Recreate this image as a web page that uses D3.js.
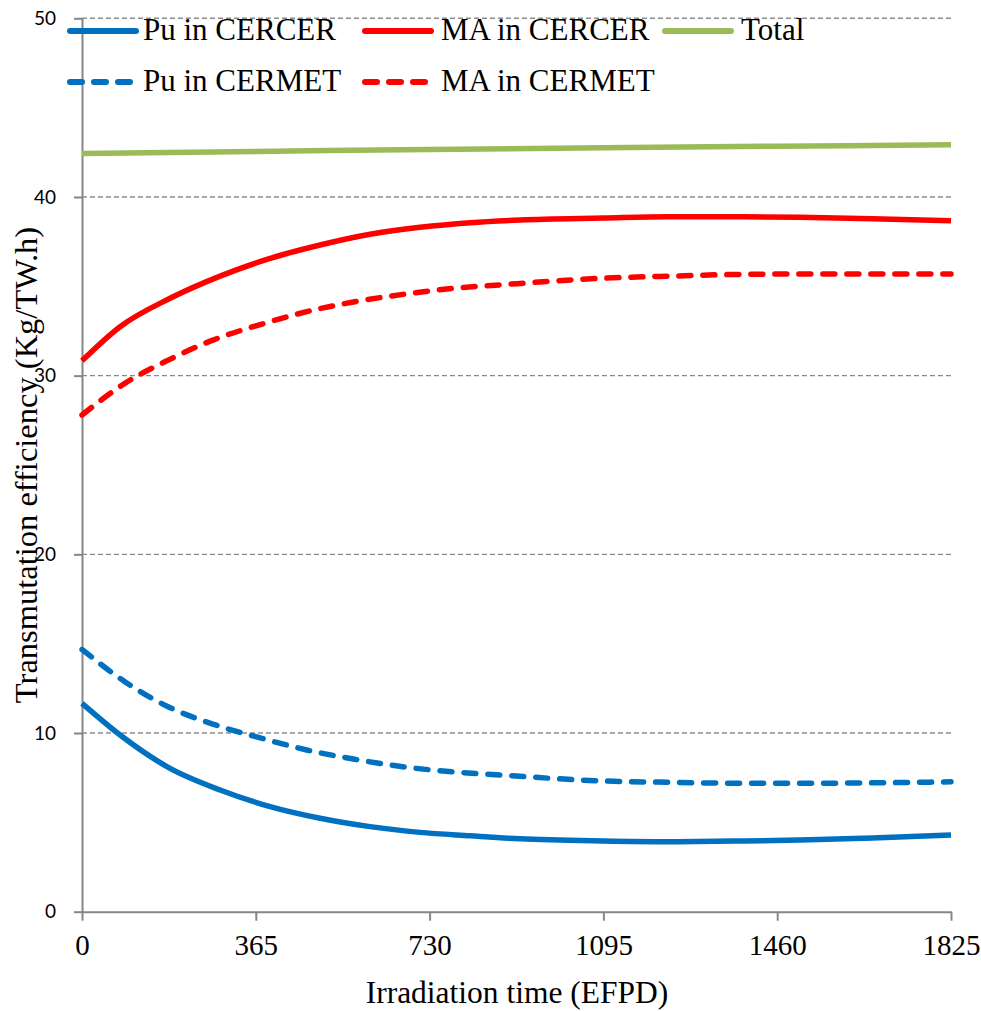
<!DOCTYPE html>
<html>
<head>
<meta charset="utf-8">
<script src="https://cdnjs.cloudflare.com/ajax/libs/d3/7.8.5/d3.min.js"></script>
<style>
  body { margin: 0; background: #fff; }
  svg { display: block; }
</style>
</head>
<body>
<div id="chart"></div>
<script>
// data
var cercerDays = [0, 80, 185, 290, 395, 500, 605, 710, 815, 920, 1095, 1229, 1370, 1508, 1660, 1825];
var puCercer = [11.66, 9.89, 8.02, 6.81, 5.88, 5.23, 4.76, 4.44, 4.25, 4.08, 3.96, 3.92, 3.95, 4.01, 4.13, 4.29];
var maCercer = [30.83, 32.74, 34.33, 35.57, 36.56, 37.31, 37.91, 38.30, 38.56, 38.71, 38.82, 38.89, 38.89, 38.86, 38.78, 38.67];
var cermetDays = [0, 90, 181, 275, 378, 472, 573, 674, 777, 878, 1082, 1235, 1388, 1539, 1693, 1825];
var puCermet = [14.68, 12.87, 11.47, 10.50, 9.70, 9.05, 8.53, 8.11, 7.83, 7.65, 7.33, 7.24, 7.19, 7.19, 7.22, 7.27];
var maCermet = [27.80, 29.57, 30.87, 31.99, 32.89, 33.58, 34.14, 34.55, 34.88, 35.08, 35.44, 35.57, 35.67, 35.69, 35.69, 35.69];
var totalDays = [0, 365, 730, 1095, 1460, 1825];
var total = [42.44, 42.55, 42.66, 42.75, 42.84, 42.92];

var xTicks = [0, 365, 730, 1095, 1460, 1825];
var yTicks = [0, 10, 20, 30, 40, 50];

var w = 981, h = 1011;
var plotLeft = 82, plotRight = 951, plotTop = 18.3, plotBottom = 911.7;
var serif = "'Liberation Serif', 'Times New Roman', serif";
var axisColor = "#868686";

var svg = d3.select("#chart")
  .append("svg")
  .attr("width", w)
  .attr("height", h);

var xScale = d3.scaleLinear().domain([0, 1825]).range([plotLeft, plotRight]);
var yScale = d3.scaleLinear().domain([0, 50]).range([plotBottom, plotTop]);

// gridlines
svg.append("g")
  .selectAll("line")
  .data(yTicks.filter(function(d) { return d > 0; }))
  .enter().append("line")
  .attr("x1", plotLeft)
  .attr("x2", plotRight)
  .attr("y1", function(d) { return yScale(d); })
  .attr("y2", function(d) { return yScale(d); })
  .style("stroke", "#8c8c8c")
  .style("stroke-width", 1.4)
  .style("stroke-dasharray", "5,3");

// y axis
var yAxis = svg.append("g")
  .attr("transform", "translate(" + plotLeft + ",0)")
  .call(d3.axisLeft(yScale).tickValues(yTicks).tickSize(8).tickSizeOuter(0).tickPadding(18).tickFormat(d3.format("d")));
yAxis.select("path").style("stroke", axisColor).style("stroke-width", 2);
yAxis.selectAll("line").style("stroke", axisColor).style("stroke-width", 2);
yAxis.selectAll("text")
  .style("font-family", "Lato, 'Open Sans', sans-serif")
  .style("font-size", "19px")
  .style("fill", "#000");

// x axis
var xAxis = svg.append("g")
  .attr("transform", "translate(0," + plotBottom + ")")
  .call(d3.axisBottom(xScale).tickValues(xTicks).tickSize(9).tickSizeOuter(0).tickPadding(14).tickFormat(d3.format("d")));
xAxis.select("path").style("stroke", axisColor).style("stroke-width", 2);
xAxis.selectAll("line").style("stroke", axisColor).style("stroke-width", 2);
xAxis.selectAll("text")
  .style("font-family", serif)
  .style("font-size", "29px")
  .style("fill", "#000");

// axis titles
svg.append("text")
  .attr("x", (plotLeft + plotRight) / 2 + 0.5)
  .attr("y", 1003)
  .attr("text-anchor", "middle")
  .style("font-family", serif)
  .style("font-size", "31.5px")
  .text("Irradiation time (EFPD)");

svg.append("text")
  .attr("transform", "translate(37," + ((plotTop + plotBottom) / 2) + ") rotate(-90)")
  .attr("text-anchor", "middle")
  .style("font-family", serif)
  .style("font-size", "32.5px")
  .text("Transmutation efficiency (Kg/TW.h)");

// series
var series = [
  { name: "Pu in CERCER", x: cercerDays, y: puCercer, color: "#0070C0", dash: null },
  { name: "MA in CERCER", x: cercerDays, y: maCercer, color: "#FF0000", dash: null },
  { name: "Total", x: totalDays, y: total, color: "#9BBB59", dash: null },
  { name: "Pu in CERMET", x: cermetDays, y: puCermet, color: "#0070C0", dash: "12,12" },
  { name: "MA in CERMET", x: cermetDays, y: maCermet, color: "#FF0000", dash: "12,12" }
];

var line = d3.line()
  .x(function(d) { return xScale(d[0]); })
  .y(function(d) { return yScale(d[1]); })
  .curve(d3.curveMonotoneX);

svg.append("g")
  .selectAll("path")
  .data(series)
  .enter().append("path")
  .attr("d", function(s) { return line(d3.zip(s.x, s.y)); })
  .style("fill", "none")
  .style("stroke", function(s) { return s.color; })
  .style("stroke-width", 5.5)
  .style("stroke-linecap", function(s) { return s.dash ? "round" : "butt"; })
  .style("stroke-dasharray", function(s) { return s.dash; });

// legend
var legendPos = [
  { lx: 70, tx: 143, y: 31 },
  { lx: 365, tx: 441, y: 31 },
  { lx: 665, tx: 741, y: 31 },
  { lx: 70, tx: 143, y: 82 },
  { lx: 365, tx: 441, y: 82 }
];

var legend = svg.append("g")
  .selectAll("g")
  .data(series)
  .enter().append("g");

legend.append("line")
  .attr("x1", function(s, i) { return legendPos[i].lx; })
  .attr("x2", function(s, i) { return legendPos[i].lx + (s.dash ? 62 : 66); })
  .attr("y1", function(s, i) { return legendPos[i].y; })
  .attr("y2", function(s, i) { return legendPos[i].y; })
  .style("stroke", function(s) { return s.color; })
  .style("stroke-width", 6)
  .style("stroke-linecap", "round")
  .style("stroke-dasharray", function(s) { return s.dash ? "12,12" : null; });

legend.append("text")
  .attr("x", function(s, i) { return legendPos[i].tx; })
  .attr("y", function(s, i) { return legendPos[i].y + 9; })
  .style("font-family", serif)
  .style("font-size", "31px")
  .text(function(s) { return s.name; });
</script>
</body>
</html>
